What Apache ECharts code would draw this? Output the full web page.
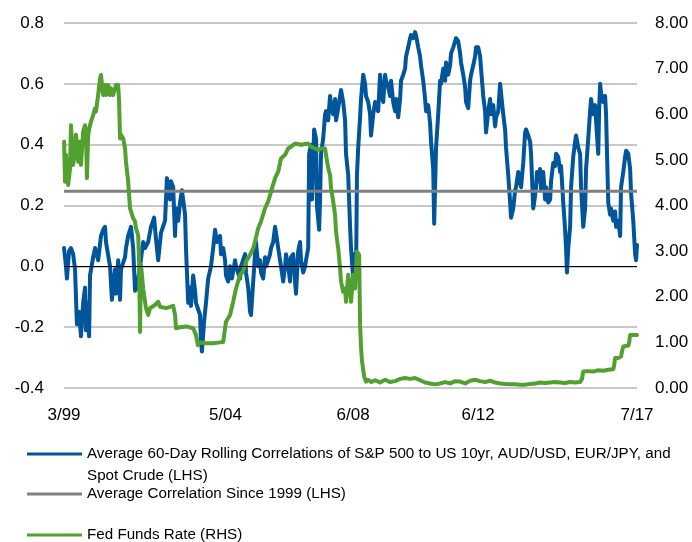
<!DOCTYPE html>
<html>
<head>
<meta charset="utf-8">
<script src="https://cdn.jsdelivr.net/npm/echarts@6.0.0/dist/echarts.min.js"></script>
<style>
  html, body { margin: 0; padding: 0; background: #fff; }
  #chart { width: 692px; height: 542px; }
</style>
</head>
<body>
<div id="chart"></div>
<script>
const FONT = '"Liberation Sans", Arial, sans-serif';

/* ---------------------------------- data ---------------------------------- */
// x values are decimal years (3/99 = 1999.167)
const xTickYears = [1999.167, 2004.333, 2008.417, 2012.417, 2017.5];
const xTickLabels = ['3/99', '5/04', '6/08', '6/12', '7/17'];

const NAME_CORR = 'Average 60-Day Rolling Correlations of S&P 500 to US 10yr, AUD/USD, EUR/JPY, and Spot Crude (LHS)';
const NAME_AVG = 'Average Correlation Since 1999 (LHS)';
const NAME_FED = 'Fed Funds Rate (RHS)';

const avgCorr = 0.247;

const corrYears = [
  1999.17, 1999.23, 1999.26, 1999.33, 1999.39, 1999.46, 1999.52, 1999.58, 1999.65, 1999.71,
  1999.78, 1999.84, 1999.87, 1999.90, 1999.97, 2000.00, 2000.10, 2000.16, 2000.26, 2000.35,
  2000.42, 2000.48, 2000.51, 2000.64, 2000.70, 2000.80, 2000.83, 2000.90, 2000.96, 2000.99,
  2001.12, 2001.15, 2001.22, 2001.31, 2001.38, 2001.44, 2001.50, 2001.60, 2001.70, 2001.76,
  2001.86, 2001.95, 2002.05, 2002.11, 2002.18, 2002.24, 2002.27, 2002.40, 2002.46, 2002.56,
  2002.59, 2002.66, 2002.72, 2002.75, 2002.82, 2002.88, 2002.94, 2003.04, 2003.07, 2003.14,
  2003.20, 2003.23, 2003.30, 2003.36, 2003.39, 2003.52, 2003.55, 2003.58, 2003.65, 2003.71,
  2003.78, 2003.87, 2003.94, 2004.00, 2004.06, 2004.16, 2004.19, 2004.26, 2004.32, 2004.35,
  2004.42, 2004.48, 2004.54, 2004.64, 2004.67, 2004.80, 2004.83, 2004.96, 2004.99, 2005.06,
  2005.12, 2005.15, 2005.22, 2005.28, 2005.31, 2005.38, 2005.44, 2005.47, 2005.54, 2005.60,
  2005.63, 2005.70, 2005.76, 2005.79, 2005.86, 2005.92, 2005.95, 2006.02, 2006.08, 2006.11,
  2006.18, 2006.24, 2006.27, 2006.34, 2006.40, 2006.43, 2006.50, 2006.56, 2006.59, 2006.66,
  2006.72, 2006.75, 2006.82, 2006.88, 2006.91, 2006.98, 2007.01, 2007.07, 2007.10, 2007.17,
  2007.23, 2007.26, 2007.33, 2007.36, 2007.39, 2007.46, 2007.52, 2007.55, 2007.62, 2007.68,
  2007.71, 2007.78, 2007.84, 2007.87, 2007.94, 2008.00, 2008.03, 2008.10, 2008.16, 2008.19,
  2008.26, 2008.32, 2008.35, 2008.42, 2008.45, 2008.51, 2008.54, 2008.58, 2008.64, 2008.67,
  2008.74, 2008.80, 2008.83, 2008.90, 2008.96, 2008.99, 2009.06, 2009.12, 2009.15, 2009.22,
  2009.28, 2009.31, 2009.38, 2009.44, 2009.47, 2009.54, 2009.60, 2009.63, 2009.70, 2009.76,
  2009.79, 2009.86, 2009.92, 2009.95, 2010.02, 2010.08, 2010.11, 2010.18, 2010.24, 2010.27,
  2010.34, 2010.40, 2010.43, 2010.50, 2010.56, 2010.59, 2010.66, 2010.72, 2010.75, 2010.82,
  2010.88, 2010.91, 2010.98, 2011.01, 2011.04, 2011.07, 2011.14, 2011.20, 2011.23, 2011.30,
  2011.36, 2011.39, 2011.46, 2011.52, 2011.55, 2011.62, 2011.68, 2011.71, 2011.78, 2011.84,
  2011.87, 2011.94, 2012.00, 2012.03, 2012.10, 2012.16, 2012.19, 2012.26, 2012.32, 2012.35,
  2012.42, 2012.48, 2012.51, 2012.58, 2012.64, 2012.67, 2012.74, 2012.80, 2012.83, 2012.90,
  2012.96, 2012.99, 2013.06, 2013.12, 2013.15, 2013.22, 2013.28, 2013.31, 2013.38, 2013.44,
  2013.47, 2013.54, 2013.60, 2013.63, 2013.70, 2013.76, 2013.79, 2013.86, 2013.92, 2013.95,
  2014.02, 2014.08, 2014.11, 2014.18, 2014.21, 2014.27, 2014.30, 2014.34, 2014.40, 2014.43,
  2014.50, 2014.56, 2014.59, 2014.66, 2014.72, 2014.75, 2014.82, 2014.88, 2014.91, 2014.98,
  2015.04, 2015.07, 2015.14, 2015.20, 2015.23, 2015.26, 2015.30, 2015.36, 2015.39, 2015.46,
  2015.52, 2015.55, 2015.62, 2015.68, 2015.71, 2015.78, 2015.84, 2015.87, 2015.94, 2016.00,
  2016.03, 2016.10, 2016.16, 2016.19, 2016.26, 2016.29, 2016.32, 2016.35, 2016.42, 2016.48,
  2016.51, 2016.58, 2016.64, 2016.67, 2016.74, 2016.80, 2016.83, 2016.90, 2016.96, 2016.99,
  2017.06, 2017.12, 2017.15, 2017.22, 2017.28, 2017.31, 2017.38, 2017.44, 2017.47, 2017.50
];
const corrValues = [
  0.06, 0.00, -0.04, 0.05, 0.06, 0.04, -0.01, -0.19, -0.15, -0.23,
  -0.12, -0.07, -0.21, -0.12, -0.23, -0.03, 0.03, 0.06, 0.02, 0.10,
  0.12, 0.13, 0.08, 0.00, -0.11, -0.01, -0.09, 0.02, -0.11, -0.01,
  0.03, 0.06, 0.10, 0.13, 0.06, -0.08, -0.07, 0.00, 0.08, 0.06,
  0.08, 0.13, 0.16, 0.09, 0.02, 0.08, 0.11, 0.15, 0.29, 0.22,
  0.28, 0.26, 0.10, 0.19, 0.15, 0.21, 0.25, 0.17, 0.06, -0.12,
  -0.07, -0.13, -0.03, -0.08, -0.12, -0.16, -0.25, -0.28, -0.18, -0.12,
  -0.04, 0.00, 0.06, 0.12, 0.08, 0.10, 0.04, 0.06, 0.02, -0.03,
  -0.05, 0.00, -0.04, 0.02, 0.00, -0.04, 0.00, 0.04, -0.02, -0.07,
  -0.15, -0.16, -0.05, 0.04, 0.08, 0.00, 0.02, -0.02, -0.04, 0.03,
  0.00, 0.02, 0.04, 0.06, 0.08, 0.13, 0.11, 0.06, 0.02, 0.00,
  -0.05, 0.00, 0.04, 0.00, -0.05, 0.03, 0.04, -0.05, -0.09, 0.05,
  0.08, 0.02, -0.02, 0.00, 0.02, 0.06, 0.37, 0.40, 0.22, 0.45,
  0.42, 0.20, 0.12, 0.22, 0.37, 0.42, 0.50, 0.51, 0.48, 0.56,
  0.53, 0.50, 0.55, 0.48, 0.52, 0.56, 0.58, 0.54, 0.48, 0.37,
  0.30, 0.13, 0.06, -0.04, 0.04, -0.03, 0.30, 0.39, 0.49, 0.55,
  0.63, 0.60, 0.56, 0.54, 0.50, 0.43, 0.50, 0.54, 0.52, 0.51,
  0.63, 0.59, 0.54, 0.63, 0.61, 0.59, 0.56, 0.61, 0.54, 0.51,
  0.55, 0.49, 0.55, 0.61, 0.63, 0.65, 0.69, 0.72, 0.75, 0.76,
  0.75, 0.77, 0.76, 0.72, 0.69, 0.66, 0.61, 0.55, 0.51, 0.53,
  0.47, 0.41, 0.32, 0.14, 0.26, 0.39, 0.50, 0.61, 0.60, 0.65,
  0.61, 0.67, 0.63, 0.66, 0.70, 0.72, 0.74, 0.75, 0.74, 0.70,
  0.67, 0.63, 0.59, 0.54, 0.52, 0.61, 0.63, 0.66, 0.69, 0.72,
  0.72, 0.69, 0.65, 0.56, 0.51, 0.44, 0.51, 0.55, 0.50, 0.53,
  0.46, 0.49, 0.51, 0.60, 0.60, 0.50, 0.45, 0.39, 0.30, 0.21,
  0.16, 0.19, 0.25, 0.26, 0.31, 0.28, 0.26, 0.34, 0.44, 0.45,
  0.43, 0.41, 0.37, 0.19, 0.21, 0.26, 0.31, 0.28, 0.32, 0.25,
  0.31, 0.22, 0.26, 0.21, 0.22, 0.28, 0.34, 0.33, 0.37, 0.36,
  0.31, 0.33, 0.21, 0.12, 0.06, -0.02, 0.06, 0.13, 0.26, 0.36,
  0.41, 0.43, 0.39, 0.37, 0.26, 0.13, 0.19, 0.32, 0.42, 0.51,
  0.55, 0.50, 0.53, 0.48, 0.37, 0.52, 0.60, 0.57, 0.54, 0.56,
  0.50, 0.21, 0.17, 0.19, 0.15, 0.18, 0.13, 0.15, 0.10, 0.26,
  0.31, 0.36, 0.38, 0.37, 0.32, 0.24, 0.15, 0.04, 0.02, 0.07
];

const fedYears = [
  1999.17, 1999.20, 1999.23, 1999.30, 1999.36, 1999.39, 1999.46, 1999.52, 1999.55, 1999.62,
  1999.68, 1999.71, 1999.78, 1999.84, 1999.87, 1999.90, 1999.94, 2000.00, 2000.03, 2000.10,
  2000.16, 2000.19, 2000.26, 2000.32, 2000.35, 2000.42, 2000.48, 2000.51, 2000.58, 2000.64,
  2000.67, 2000.74, 2000.80, 2000.83, 2000.90, 2000.93, 2000.96, 2000.99, 2001.06, 2001.12,
  2001.15, 2001.22, 2001.28, 2001.31, 2001.38, 2001.44, 2001.47, 2001.54, 2001.57, 2001.60,
  2001.63, 2001.70, 2001.76, 2001.79, 2001.86, 2001.92, 2002.08, 2002.18, 2002.24, 2002.43,
  2002.66, 2002.72, 2002.75, 2002.88, 2003.07, 2003.30, 2003.39, 2003.45, 2003.52, 2003.71,
  2003.94, 2004.16, 2004.26, 2004.35, 2004.48, 2004.58, 2004.67, 2004.80, 2004.89, 2004.99,
  2005.12, 2005.22, 2005.28, 2005.38, 2005.47, 2005.60, 2005.70, 2005.79, 2005.92, 2006.02,
  2006.11, 2006.24, 2006.34, 2006.43, 2006.56, 2006.75, 2006.98, 2007.07, 2007.20, 2007.30,
  2007.39, 2007.52, 2007.55, 2007.62, 2007.68, 2007.71, 2007.78, 2007.84, 2007.87, 2007.94,
  2008.00, 2008.03, 2008.10, 2008.16, 2008.19, 2008.26, 2008.32, 2008.35, 2008.42, 2008.48,
  2008.51, 2008.54, 2008.61, 2008.64, 2008.67, 2008.70, 2008.74, 2008.77, 2008.83, 2008.90,
  2008.99, 2009.12, 2009.28, 2009.44, 2009.60, 2009.76, 2009.92, 2010.08, 2010.24, 2010.40,
  2010.56, 2010.72, 2010.88, 2011.04, 2011.20, 2011.36, 2011.52, 2011.68, 2011.84, 2012.00,
  2012.16, 2012.32, 2012.48, 2012.64, 2012.80, 2012.96, 2013.12, 2013.28, 2013.44, 2013.60,
  2013.76, 2013.92, 2014.08, 2014.24, 2014.40, 2014.56, 2014.72, 2014.88, 2015.04, 2015.20,
  2015.36, 2015.52, 2015.68, 2015.74, 2015.78, 2015.94, 2016.10, 2016.26, 2016.42, 2016.58,
  2016.74, 2016.77, 2016.80, 2016.90, 2016.99, 2017.02, 2017.06, 2017.22, 2017.25, 2017.28,
  2017.38, 2017.50
];
const fedValues = [
  5.40, 4.52, 5.11, 4.45, 4.81, 5.76, 4.89, 5.25, 5.55, 4.96,
  5.40, 4.89, 5.62, 5.76, 5.62, 4.60, 5.55, 5.76, 5.84, 5.98,
  6.13, 6.06, 6.42, 6.79, 6.86, 6.42, 6.64, 6.42, 6.64, 6.42,
  6.57, 6.42, 6.57, 6.64, 6.64, 6.28, 5.47, 5.55, 5.47, 5.25,
  4.96, 4.52, 3.94, 3.87, 3.72, 3.65, 3.50, 3.35, 2.77, 1.23,
  2.70, 2.18, 1.89, 1.75, 1.60, 1.75, 1.82, 1.89, 1.78, 1.75,
  1.80, 1.60, 1.31, 1.33, 1.35, 1.31, 1.16, 0.94, 1.00, 0.98,
  0.98, 1.00, 1.01, 1.45, 1.60, 1.89, 2.18, 2.48, 2.55, 2.77,
  2.92, 3.06, 3.21, 3.50, 3.65, 3.94, 4.09, 4.30, 4.60, 4.74,
  5.03, 5.11, 5.25, 5.29, 5.36, 5.33, 5.36, 5.29, 5.25, 5.22,
  5.25, 5.25, 5.11, 4.82, 4.67, 4.38, 4.09, 3.79, 3.43, 3.06,
  2.63, 2.33, 2.11, 2.18, 1.89, 2.48, 2.18, 1.89, 2.48, 2.18,
  2.63, 2.99, 2.92, 1.40, 0.90, 0.60, 0.40, 0.25, 0.14, 0.18,
  0.13, 0.17, 0.12, 0.18, 0.13, 0.15, 0.20, 0.22, 0.20, 0.22,
  0.17, 0.12, 0.10, 0.08, 0.10, 0.13, 0.10, 0.15, 0.14, 0.10,
  0.16, 0.18, 0.15, 0.13, 0.16, 0.12, 0.10, 0.09, 0.08, 0.08,
  0.07, 0.07, 0.09, 0.10, 0.12, 0.11, 0.12, 0.13, 0.12, 0.11,
  0.13, 0.12, 0.13, 0.20, 0.36, 0.37, 0.36, 0.39, 0.38, 0.40,
  0.41, 0.50, 0.66, 0.66, 0.69, 0.80, 0.91, 0.93, 1.00, 1.16,
  1.16, 1.16
];

/* -------------------------------------------------------------------------- */

const BLUE = '#00559b';
const GRAY = '#808080';
const GREEN = '#52a02f';

const xMin = xTickYears[0];
const xMax = xTickYears[xTickYears.length - 1];

const zip = (xs, ys) => xs.map((x, i) => [x, ys[i]]);

const tickLabel = value => {
  let best = 0;
  xTickYears.forEach((y, i) => {
    if (Math.abs(y - value) < Math.abs(xTickYears[best] - value)) best = i;
  });
  return xTickLabels[best];
};

const legendBase = {
  left: 27,
  padding: 0,
  orient: 'vertical',
  icon: 'rect',
  itemWidth: 55,
  itemHeight: 3,
  selectedMode: false,
  textStyle: { fontFamily: FONT, fontSize: 15.2, lineHeight: 22, color: '#000' }
};

const chart = echarts.init(document.getElementById('chart'), null, { renderer: 'canvas' });

chart.setOption({
  animation: false,
  backgroundColor: '#fff',
  textStyle: { fontFamily: FONT },
  grid: { left: 64, right: 55, top: 23, bottom: 154, containLabel: false },
  legend: [
    {
      // empty first line keeps the icon level with the first line of text
      ...legendBase,
      top: 421,
      data: [NAME_CORR],
      formatter: name => ' \n' + name.replace('and Spot', 'and\nSpot')
    },
    { ...legendBase, top: 483, data: [NAME_AVG] },
    { ...legendBase, top: 524, data: [NAME_FED] }
  ],
  xAxis: {
    type: 'value',
    min: xMin,
    max: xMax,
    axisLine: { show: false },
    axisTick: { show: false },
    splitLine: { show: false },
    axisLabel: {
      customValues: xTickYears,
      formatter: tickLabel,
      margin: 19,
      fontSize: 17,
      color: '#000',
      fontFamily: FONT
    }
  },
  yAxis: [
    {
      type: 'value',
      position: 'left',
      min: -0.4,
      max: 0.8,
      interval: 0.2,
      axisLine: { show: false },
      axisTick: { show: false },
      splitLine: { lineStyle: { color: '#c8c8c8', width: 2 } },
      axisLabel: {
        margin: 20,
        fontSize: 17,
        color: '#000',
        fontFamily: FONT,
        formatter: v => (Math.abs(v) < 1e-9 ? '0.0' : v.toFixed(1))
      }
    },
    {
      type: 'value',
      position: 'right',
      min: 0,
      max: 8,
      interval: 1,
      axisLine: { show: false },
      axisTick: { show: false },
      splitLine: { show: false },
      axisLabel: {
        margin: 18,
        fontSize: 17,
        color: '#000',
        fontFamily: FONT,
        formatter: v => v.toFixed(2)
      }
    }
  ],
  series: [
    {
      name: NAME_CORR,
      type: 'line',
      yAxisIndex: 0,
      data: zip(corrYears, corrValues),
      symbol: 'none',
      color: BLUE,
      lineStyle: { color: BLUE, width: 4, join: 'round', cap: 'round' },
      z: 2,
      markLine: {
        silent: true,
        symbol: 'none',
        label: { show: false },
        lineStyle: { color: '#000', width: 1, type: 'solid' },
        data: [{ yAxis: 0 }]
      }
    },
    {
      name: NAME_AVG,
      type: 'line',
      yAxisIndex: 0,
      data: [[xMin, avgCorr], [xMax, avgCorr]],
      symbol: 'none',
      color: GRAY,
      lineStyle: { color: GRAY, width: 3 },
      z: 3
    },
    {
      name: NAME_FED,
      type: 'line',
      yAxisIndex: 1,
      data: zip(fedYears, fedValues),
      symbol: 'none',
      color: GREEN,
      lineStyle: { color: GREEN, width: 4, join: 'round', cap: 'round' },
      z: 4
    }
  ]
});
</script>
</body>
</html>
